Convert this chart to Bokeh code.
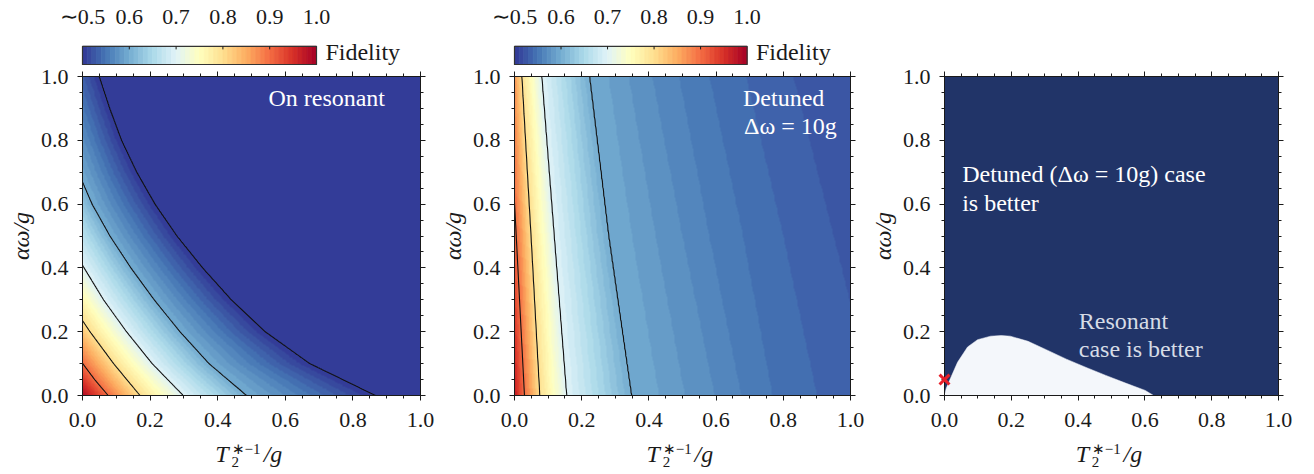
import numpy as np
from bokeh.plotting import figure
from bokeh.models import Range1d, LinearAxis, FixedTicker, Label, LinearColorMapper, PrintfTickFormatter
from bokeh.layouts import row, column
from bokeh.embed import file_html
from bokeh.resources import INLINE

FONT = "Liberation Serif"
INK = "#1a1a1a"
TICK_FS = "22px"
TEXT_FS = "24px"

# ---------------- data ----------------
axis_ticks = [0.0, 0.2, 0.4, 0.6, 0.8, 1.0]
axis_minor = [round(0.05 * i, 2) for i in range(21)]
cbar_ticks = [0.5, 0.6, 0.7, 0.8, 0.9, 1.0]
cbar_labels = ["∼0.5", "0.6", "0.7", "0.8", "0.9", "1.0"]
band_edges = [round(0.5 + 0.01 * i, 2) for i in range(51)]

# Panel 1 (on resonant): contour lines (level -> points)
p1_levels = [0.9, 0.8, 0.7, 0.6, 0.5]
p1_c90_x = [0.076, 0.036, 0.0]
p1_c90_y = [0.0, 0.05, 0.101]
p1_c80_x = [0.170, 0.092, 0.022, 0.0]
p1_c80_y = [0.0, 0.1, 0.2, 0.235]
p1_c70_x = [0.298, 0.206, 0.130, 0.062, 0.0]
p1_c70_y = [0.0, 0.1, 0.2, 0.3, 0.408]
p1_c60_x = [0.485, 0.374, 0.288, 0.212, 0.143, 0.081, 0.028, 0.0]
p1_c60_y = [0.0, 0.1, 0.2, 0.3, 0.4, 0.5, 0.6, 0.669]
p1_c50_x = [0.867, 0.672, 0.540, 0.440, 0.355, 0.279, 0.214, 0.160, 0.115, 0.080, 0.049]
p1_c50_y = [0.0, 0.1, 0.2, 0.3, 0.4, 0.5, 0.6, 0.7, 0.8, 0.9, 1.0]
p1_edge_y = [0.0, 0.101, 0.235, 0.408, 0.669, 1.16]   # fidelity along x = 0
p1_edge_f = [0.99, 0.9, 0.8, 0.7, 0.6, 0.5]
p1_right_y = [0.0, 1.0]                              # fidelity along x = 1 (below the scale)
p1_right_f = [0.45, 0.30]

# Panel 2 (detuned): contour lines and colour-band boundaries
p2_line_levels = [0.9, 0.8, 0.7, 0.6]
p2_levels = [0.9, 0.8, 0.7, 0.6, 0.59, 0.58, 0.57, 0.56, 0.55, 0.54, 0.53]
p2_paths_x = [[0.0296, 0.0],
              [0.075, 0.049, 0.0217],
              [0.155, 0.118, 0.081],
              [0.348, 0.280, 0.223],
              [0.430, 0.350, 0.280],
              [0.507, 0.420, 0.340],
              [0.596, 0.500, 0.410],
              [0.675, 0.580, 0.490],
              [0.768, 0.680, 0.580],
              [0.900, 0.800, 0.690],
              [1.000, 0.950, 0.830]]
p2_paths_y = [[0.0, 0.606],
              [0.0, 0.5, 1.0],
              [0.0, 0.5, 1.0],
              [0.0, 0.5, 1.0],
              [0.0, 0.5, 1.0],
              [0.0, 0.5, 1.0],
              [0.0, 0.5, 1.0],
              [0.0, 0.5, 1.0],
              [0.0, 0.5, 1.0],
              [0.0, 0.5, 1.0],
              [0.29, 0.5, 1.0]]
p2_edge_y = [0.0, 0.606, 1.0]
p2_edge_f = [0.97, 0.9, 0.87]
p2_right_y = [0.0, 0.5, 1.0]
p2_right_f = [0.534, 0.527, 0.521]

# Panel 3: boundary of the region where the resonant case is better
p3_boundary_x = [0.0, 0.005, 0.015, 0.039, 0.069, 0.099, 0.138, 0.170, 0.197, 0.250, 0.306,
                 0.365, 0.424, 0.483, 0.542, 0.601, 0.626]
p3_boundary_y = [0.0, 0.022, 0.047, 0.104, 0.152, 0.175, 0.186, 0.188, 0.186, 0.170, 0.143,
                 0.114, 0.088, 0.063, 0.039, 0.016, 0.0]
cross_x = [0.0]
cross_y = [0.05]

# ---------------- colours ----------------
anchors = ['#313695', '#4575b4', '#74add1', '#abd9e9', '#e0f3f8', '#ffffbf',
           '#fee090', '#fdae61', '#f46d43', '#d73027', '#a50026']


def _rgb(h):
    return tuple(int(h[i:i + 2], 16) for i in (1, 3, 5))


def cmap(t):
    pos = t * (len(anchors) - 1)
    i = min(int(pos), len(anchors) - 2)
    f = pos - i
    a, b = _rgb(anchors[i]), _rgb(anchors[i + 1])
    return "#%02x%02x%02x" % tuple(int(round(a[k] + (b[k] - a[k]) * f)) for k in range(3))


pal50 = [cmap((i + 0.5) / 50) for i in range(50)]
NAVY = "#213468"
PALE = "#f4f7fb"


# ---------------- field from the read contour lines ----------------
def build_field(xs, ys, edge_y, edge_f, right_y, right_f, levels, paths_x, paths_y):
    Z = np.empty((len(ys), len(xs)))
    for i, y in enumerate(ys):
        px = [0.0]
        pf = [float(np.interp(y, edge_y, edge_f))]
        for L, cx, cy in zip(levels, paths_x, paths_y):
            if cy[0] <= y <= cy[-1] and L < pf[-1]:
                x = float(np.interp(y, cy, cx))
                if px[-1] < x < 1.0:
                    px.append(x)
                    pf.append(L)
        px.append(1.0)
        pf.append(float(np.interp(y, right_y, right_f)))
        Z[i] = np.interp(xs, px, pf)
    return Z


NPIX = 440
xg = (np.arange(NPIX) + 0.5) / NPIX
xc = np.linspace(0, 1, 321)

p1_px = [p1_c90_x, p1_c80_x, p1_c70_x, p1_c60_x, p1_c50_x]
p1_py = [p1_c90_y, p1_c80_y, p1_c70_y, p1_c60_y, p1_c50_y]
args1 = (p1_edge_y, p1_edge_f, p1_right_y, p1_right_f, p1_levels, p1_px, p1_py)
Z1 = build_field(xg, xg, *args1)
Z1c = build_field(xc, xc, *args1)
args2 = (p2_edge_y, p2_edge_f, p2_right_y, p2_right_f, p2_levels, p2_paths_x, p2_paths_y)
Z2 = build_field(xg, xg, *args2)
Z2c = build_field(xc, xc, *args2)


# ---------------- helpers ----------------
def style_axis(ax, labels=True, standoff=9):
    ax.ticker = FixedTicker(ticks=axis_ticks, minor_ticks=axis_minor)
    ax.formatter = PrintfTickFormatter(format="%.1f")
    ax.axis_line_color = INK
    ax.axis_line_width = 1
    ax.major_tick_line_color = INK
    ax.minor_tick_line_color = INK
    ax.major_tick_out = 5
    ax.major_tick_in = 0
    ax.minor_tick_out = 3
    ax.minor_tick_in = 0
    ax.major_label_text_font = FONT
    if labels:
        ax.major_label_text_color = INK
        ax.major_label_text_font_size = TICK_FS
        ax.major_label_standoff = standoff
    else:
        ax.major_label_text_color = None
        ax.major_label_text_font_size = "1px"
        ax.major_label_standoff = 0


def text_label(x, y, text, size=TEXT_FS, color=INK, style="normal"):
    return Label(x=x, y=y, text=text, text_font=FONT, text_font_size=size, text_color=color,
                 text_font_style=style, text_baseline="middle")


def make_panel(width, height, left, right, top, bottom):
    p = figure(width=width, height=height, x_range=Range1d(0, 1), y_range=Range1d(0, 1),
               output_backend="svg", toolbar_location=None,
               min_border_left=left, min_border_right=right,
               min_border_top=top, min_border_bottom=bottom)
    p.grid.visible = False
    p.outline_line_color = INK
    xa, ya = p.xaxis[0], p.yaxis[0]
    style_axis(xa, standoff=12)
    style_axis(ya, standoff=9)
    ya.axis_label = "αω/g"
    ya.axis_label_text_font = FONT
    ya.axis_label_text_font_style = "italic"
    ya.axis_label_text_font_size = TEXT_FS
    ya.axis_label_text_color = INK
    ya.axis_label_standoff = 4
    ta = LinearAxis()
    style_axis(ta, labels=False)
    p.add_layout(ta, "above")
    ra = LinearAxis()
    style_axis(ra, labels=False)
    p.add_layout(ra, "right")
    return p


def make_xlabel(width, left, right):
    # strip under a panel carrying the x-axis title  T_2^{*-1}/g ; y counted in px from its bottom
    h = 36
    f = figure(width=width, height=h, x_range=Range1d(0, 1), y_range=Range1d(0, h),
               x_axis_location=None, y_axis_location=None,
               output_backend="svg", toolbar_location=None,
               min_border_left=left, min_border_right=right, min_border_top=0, min_border_bottom=0)
    f.grid.visible = False
    f.outline_line_color = None
    f.add_layout(text_label(0.393, 21, "T", style="italic"))
    f.add_layout(text_label(0.441, 26, "∗−1", size="15px"))
    f.add_layout(text_label(0.441, 13, "2", size="15px"))
    f.add_layout(text_label(0.536, 21, "/g", style="italic"))
    return f


def make_cbar(width, left, right):
    # frame spans 34..65 px of a 65 px strip; y is counted in pixels from its bottom
    c = figure(width=width, height=65, x_range=Range1d(0.5, 0.5 + 338 / 468), y_range=Range1d(0, 31),
               x_axis_location="above", y_axis_location=None,
               output_backend="svg", toolbar_location=None,
               min_border_left=left, min_border_right=right, min_border_top=34, min_border_bottom=0)
    c.grid.visible = False
    c.outline_line_color = None
    ax = c.xaxis[0]
    ax.ticker = FixedTicker(ticks=cbar_ticks, minor_ticks=[])
    ax.major_label_overrides = {t: s for t, s in zip(cbar_ticks, cbar_labels)}
    ax.axis_line_color = None
    ax.major_tick_line_color = None
    ax.major_tick_in = 0
    ax.major_tick_out = 0
    ax.major_label_text_font = FONT
    ax.major_label_text_font_size = TICK_FS
    ax.major_label_text_color = INK
    ax.major_label_standoff = 10
    c.quad(left=band_edges[:-1], right=band_edges[1:], bottom=1, top=22,
           fill_color=pal50, line_color=pal50, line_width=0.8)
    c.quad(left=[band_edges[0]], right=[band_edges[-1]], bottom=[1], top=[22],
           fill_color=None, line_color="#333333", line_width=1.2, level="overlay")
    c.segment(x0=cbar_ticks[1:-1], y0=22, x1=cbar_ticks[1:-1], y1=18.5,
              line_color=INK, line_width=1, level="overlay")
    c.add_layout(text_label(1.019, 16, "Fidelity"))
    return c


def heat(p, Z, Zc, levels):
    mapper = LinearColorMapper(palette=pal50, low=0.5, high=1.0,
                               low_color=pal50[0], high_color=pal50[-1])
    p.image(image=[Z.astype(np.float32)], x=0, y=0, dw=1, dh=1, color_mapper=mapper)
    p.contour(x=xc, y=xc, z=Zc, levels=levels, line_color="#111111", line_width=1.1)


# ---------------- panels ----------------
cb1 = make_cbar(436, 82, 16)
p1 = make_panel(436, 373, 82, 16, 11, 43)
heat(p1, Z1, Z1c, sorted(p1_levels))
p1.add_layout(text_label(0.55, 0.934, "On resonant", color="white"))
xl1 = make_xlabel(436, 82, 16)

cb2 = make_cbar(430, 76, 16)
p2 = make_panel(430, 373, 76, 16, 11, 43)
heat(p2, Z2, Z2c, sorted(p2_line_levels))
p2.add_layout(text_label(0.68, 0.934, "Detuned", color="white"))
p2.add_layout(text_label(0.683, 0.846, "Δω = 10g", color="white"))
xl2 = make_xlabel(430, 76, 16)

p3 = make_panel(448, 438, 74, 36, 76, 43)
p3.background_fill_color = NAVY
p3.patch(x=p3_boundary_x, y=p3_boundary_y, fill_color=PALE, line_color=PALE, line_width=0.5)
p3.scatter(x=cross_x, y=cross_y, marker="x", size=14, line_color="#e8202a", line_width=3,
           level="overlay")
for txt, x, y, col in [("Detuned (Δω = 10g) case", 0.053, 0.693, "white"),
                       ("is better", 0.053, 0.605, "white"),
                       ("Resonant", 0.402, 0.235, "#d6dce6"),
                       ("case is better", 0.402, 0.147, "#d6dce6")]:
    p3.add_layout(text_label(x, y, txt, color=col))
xl3 = make_xlabel(448, 74, 36)

layout = row(column(cb1, p1, xl1), column(cb2, p2, xl2), column(p3, xl3))
open("out.html", "w").write(file_html(layout, INLINE, title="Fidelity"))
